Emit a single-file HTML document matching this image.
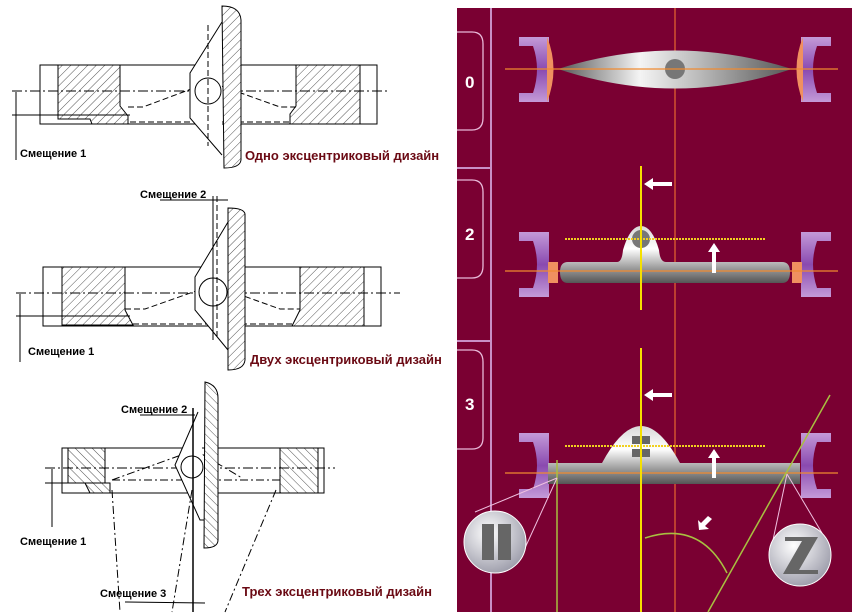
<!DOCTYPE html>
<html><head><meta charset="utf-8"><style>
html,body{margin:0;padding:0;background:#fff;}
svg{display:block;}
.t{font-family:"Liberation Sans",sans-serif;font-weight:bold;font-size:11px;fill:#000;}
.r{font-family:"Liberation Sans",sans-serif;font-weight:bold;font-size:13px;fill:#6b0a14;}
.n{font-family:"Liberation Sans",sans-serif;font-weight:bold;font-size:17px;fill:#fff;}
</style></head><body>
<svg width="852" height="614" viewBox="0 0 852 614" xmlns="http://www.w3.org/2000/svg">
<defs>
<pattern id="h" width="6" height="6" patternUnits="userSpaceOnUse" patternTransform="rotate(45)"><rect width="6" height="6" fill="#fff"/><line x1="0" y1="0" x2="0" y2="6" stroke="#555" stroke-width="1"/></pattern>
<pattern id="h2" width="6" height="6" patternUnits="userSpaceOnUse" patternTransform="rotate(-45)"><rect width="6" height="6" fill="#fff"/><line x1="0" y1="0" x2="0" y2="6" stroke="#555" stroke-width="1"/></pattern>
<linearGradient id="met" x1="0" y1="0" x2="0" y2="1"><stop offset="0" stop-color="#d8d8d8"/><stop offset="0.4" stop-color="#ffffff"/><stop offset="0.75" stop-color="#999"/><stop offset="1" stop-color="#555"/></linearGradient>
<linearGradient id="lens" x1="0" y1="0" x2="1" y2="0"><stop offset="0" stop-color="#555"/><stop offset="0.35" stop-color="#f4f4f4"/><stop offset="0.6" stop-color="#bbb"/><stop offset="1" stop-color="#555"/></linearGradient>
<radialGradient id="ball" cx="0.4" cy="0.35" r="0.7"><stop offset="0" stop-color="#fff"/><stop offset="1" stop-color="#9a9aa8"/></radialGradient>
<linearGradient id="br" x1="0" y1="0" x2="0" y2="1"><stop offset="0" stop-color="#c49ad8"/><stop offset="0.5" stop-color="#8a4ab0"/><stop offset="1" stop-color="#c49ad8"/></linearGradient>
</defs>

<!-- ===== Drawing 1 ===== -->
<g stroke="#000" stroke-width="1" fill="none">
<rect x="40" y="65" width="337" height="59" fill="#fff"/>
<path d="M58 65 H120 V106 L128 116 V124 H92 L90 119 H58 Z" fill="url(#h)"/>
<path d="M296 65 H360 V124 H290 V114 L296 106 Z" fill="url(#h)"/>
<line x1="12" y1="91" x2="388" y2="91" stroke-dasharray="10,3,2,3"/>
<line x1="12" y1="115" x2="130" y2="115"/>
<line x1="16" y1="92" x2="16" y2="160"/>
<path d="M128 107 H143 L210 82 L280 107 H296" stroke-dasharray="6,3"/>
<path d="M130 122 H290" stroke-dasharray="6,3"/>
<path d="M222 22 L190 73 V118 L222 155" fill="#fff"/>
<path d="M222 6 Q240 6 241 20 V160 Q240 168 224 168 Z" fill="url(#h)"/>
<circle cx="208" cy="91" r="13" fill="#fff"/>
<line x1="208" y1="25" x2="208" y2="146" stroke-dasharray="6,3"/>
</g>
<text class="t" x="20" y="157">Смещение 1</text>
<text class="r" x="245" y="160">Одно эксцентриковый дизайн</text>

<!-- ===== Drawing 2 ===== -->
<g stroke="#000" stroke-width="1" fill="none">
<rect x="43" y="267" width="338" height="59" fill="#fff"/>
<path d="M62 267 H125 V310 L133 325 H62 Z" fill="url(#h)"/>
<path d="M300 267 H364 V326 H292 L300 310 Z" fill="url(#h)"/>
<line x1="16" y1="293" x2="400" y2="293" stroke-dasharray="10,3,2,3"/>
<line x1="16" y1="316" x2="130" y2="316"/>
<line x1="20" y1="294" x2="20" y2="362"/>
<path d="M125 309 H145 L213 285 L280 309 H300" stroke-dasharray="6,3"/>
<path d="M133 324 H292" stroke-dasharray="6,3"/>
<path d="M228 222 L195 277 V310 L228 350" fill="#fff"/>
<path d="M228 208 Q244 208 245 214 V360 Q244 370 228 370 Z" fill="url(#h)"/>
<circle cx="213" cy="292" r="14" fill="#fff"/>
<line x1="213" y1="196" x2="213" y2="340"/>
<line x1="217" y1="196" x2="217" y2="340" stroke-dasharray="6,3"/>
<line x1="160" y1="200" x2="228" y2="200"/>
</g>
<text class="t" x="140" y="198">Смещение 2</text>
<text class="t" x="28" y="355">Смещение 1</text>
<text class="r" x="250" y="364">Двух эксцентриковый дизайн</text>

<!-- ===== Drawing 3 ===== -->
<g stroke="#000" stroke-width="1" fill="none">
<rect x="62" y="448" width="262" height="45" fill="#fff"/>
<path d="M68 448 H105 V483 H110 V493 H90 L85 483 H68 Z" fill="url(#h2)"/>
<path d="M280 448 H318 V493 H280 Z" fill="url(#h2)"/>
<line x1="45" y1="468" x2="335" y2="468" stroke-dasharray="10,3,2,3"/>
<line x1="45" y1="483" x2="110" y2="483"/>
<line x1="52" y1="469" x2="52" y2="527"/>
<path d="M112 480 L195 450 L242 478" stroke-dasharray="8,3,2,3"/>
<path d="M112 480 H280" stroke-dasharray="8,3,2,3"/>
<path d="M198 412 L175 465 L200 520 L210 520" fill="#fff"/>
<path d="M205 382 Q218 385 218 398 V540 Q218 548 204 548 Z" fill="url(#h2)"/>
<circle cx="192" cy="467" r="11" fill="#fff"/>
<line x1="193" y1="408" x2="193" y2="612" stroke-width="1.5"/>
<path d="M112 490 L120 612" stroke-dasharray="8,3,2,3"/>
<path d="M192 490 L172 612" stroke-dasharray="8,3,2,3"/>
<path d="M276 490 L225 612" stroke-dasharray="8,3,2,3"/>
<line x1="140" y1="415" x2="195" y2="415"/>
<line x1="125" y1="602" x2="205" y2="603"/>
</g>
<text class="t" x="121" y="413">Смещение 2</text>
<text class="t" x="20" y="545">Смещение 1</text>
<text class="t" x="100" y="597">Смещение 3</text>
<text class="r" x="242" y="596">Трех эксцентриковый дизайн</text>

<!-- ===== Right panel ===== -->
<rect x="457" y="8" width="395" height="604" fill="#7a0032"/>
<line x1="491" y1="8" x2="491" y2="612" stroke="#c98fc6" stroke-width="2"/>
<line x1="457" y1="168" x2="491" y2="168" stroke="#c98fc6" stroke-width="2"/>
<line x1="457" y1="341" x2="491" y2="341" stroke="#c98fc6" stroke-width="2"/>
<g fill="none" stroke="#e8b8d8" stroke-width="1.3">
<path d="M457 32 H472 Q483 32 483 44 V118 Q483 130 472 130 H457"/>
<path d="M457 180 H472 Q483 180 483 192 V266 Q483 278 472 278 H457"/>
<path d="M457 350 H472 Q483 350 483 362 V438 Q483 449 472 449 H457"/>
</g>
<text class="n" x="465" y="88">0</text>
<text class="n" x="465" y="240">2</text>
<text class="n" x="465" y="410">3</text>

<line x1="675" y1="8" x2="675" y2="612" stroke="#e06030" stroke-width="1.3"/>

<!-- brackets symbol: thick C shapes -->
<g fill="url(#br)">
<path d="M519 37 H549 V102 H519 V93 H533 Q541 69 533 46 H519 Z"/>
<path d="M831 37 H801 V102 H831 V93 H817 Q809 69 817 46 H831 Z"/>
<path d="M519 232 H549 V297 H519 V288 H533 Q541 264 533 241 H519 Z"/>
<path d="M831 232 H801 V297 H831 V288 H817 Q809 264 817 241 H831 Z"/>
<path d="M519 433 H549 V498 H519 V489 H533 Q541 465 533 442 H519 Z"/>
<path d="M831 433 H801 V498 H831 V489 H817 Q809 465 817 442 H831 Z"/>
</g>
<!-- sec 0 -->
<path d="M547 37 Q560 69 547 102 Z" fill="#f09060"/>
<path d="M803 37 Q790 69 803 102 Z" fill="#f09060"/>
<path d="M558 69 Q675 32 792 69 Q675 108 558 69 Z" fill="url(#lens)"/>
<circle cx="675" cy="69" r="10" fill="#777"/>
<line x1="505" y1="69" x2="838" y2="69" stroke="#f08a30" stroke-width="1.3"/>

<!-- sec 2 -->
<rect x="548" y="262" width="10" height="21" fill="#f09060"/>
<rect x="792" y="262" width="10" height="21" fill="#f09060"/>
<path d="M568 262 H617 Q622 262 623 250 Q630 226 641 226 Q652 226 659 250 Q660 262 666 262 H782 Q790 262 790 272 Q790 283 782 283 H568 Q560 283 560 272 Q560 262 568 262 Z" fill="url(#met)"/>
<circle cx="641" cy="239" r="9" fill="#777"/>
<line x1="565" y1="239" x2="765" y2="239" stroke="#f0d020" stroke-width="2" stroke-dasharray="2,1"/>
<line x1="505" y1="271" x2="838" y2="271" stroke="#f08a30" stroke-width="1.3"/>
<line x1="641" y1="166" x2="641" y2="310" stroke="#f5e000" stroke-width="2"/>
<path d="M672 182 H653 V178 L644 184 L653 190 V186 H672 Z" fill="#fff"/>
<path d="M712 273 V252 H708 L714 243 L720 252 H716 V273 Z" fill="#fff"/>

<!-- sec 3 -->
<path d="M548 463 H602 Q622 426 641 426 Q660 426 680 463 H800 V484 H548 Z" fill="url(#met)"/>
<rect x="632" y="436" width="18" height="8" fill="#666"/>
<rect x="632" y="449" width="18" height="8" fill="#666"/>
<line x1="565" y1="446" x2="765" y2="446" stroke="#f0d020" stroke-width="2" stroke-dasharray="2,1"/>
<line x1="505" y1="473" x2="838" y2="473" stroke="#f08a30" stroke-width="1.3"/>
<line x1="641" y1="348" x2="641" y2="612" stroke="#f5e000" stroke-width="2"/>
<path d="M672 393 H653 V389 L644 395 L653 401 V397 H672 Z" fill="#fff"/>
<path d="M712 478 V458 H708 L714 449 L720 458 H716 V478 Z" fill="#fff"/>
<path d="M708 516 L701 523 L698 520 L699 530 L709 529 L705 526 L712 519 Z" fill="#fff"/>
<line x1="557" y1="460" x2="557" y2="612" stroke="#a8c040" stroke-width="1.5"/>
<line x1="830" y1="395" x2="708" y2="612" stroke="#a8c040" stroke-width="1.5"/>
<path d="M645 538 Q700 520 727 573" fill="none" stroke="#a8c040" stroke-width="1.5"/>
<g stroke="#f0c0e0" stroke-width="1">
<line x1="557" y1="478" x2="475" y2="512"/><line x1="557" y1="478" x2="525" y2="548"/>
<line x1="787" y1="474" x2="773" y2="540"/><line x1="787" y1="474" x2="822" y2="533"/>
</g>
<circle cx="495" cy="542" r="31" fill="url(#ball)" stroke="#fff"/>
<rect x="482" y="524" width="12" height="36" fill="#666"/>
<rect x="498" y="524" width="13" height="36" fill="#666"/>
<circle cx="800" cy="555" r="31" fill="url(#ball)" stroke="#fff"/>
<path d="M785 537 H818 L799 570 H818 V574 H783 L802 541 H785 Z" fill="#666"/>
</svg>
</body></html>
